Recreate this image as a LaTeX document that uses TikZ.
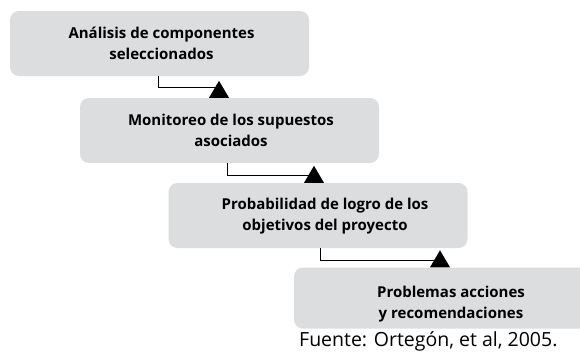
\documentclass[tikz,border=0pt]{standalone}
\usepackage{fontspec}
\setmainfont{Open Sans}
\definecolor{boxgray}{RGB}{220,221,222}
\tikzset{
  x=1pt, y=-1pt,
  stagebox/.style={draw=none, fill=boxgray, rounded corners=9pt,
    minimum width=299pt, minimum height=65pt, inner sep=0pt},
  stagetext/.style={align=center, font=\bfseries\fontsize{15}{20.5}\selectfont, inner sep=0pt},
  conn/.style={draw=black, line width=1pt},
  tip/.style={fill=black},
}
\begin{document}
\begin{tikzpicture}
\useasboundingbox (0,0) rectangle (580,351);
% boxes
\node[stagebox] (b1) at (159.5,43.5) {};
\node[stagebox] (b2) at (229.5,130.5) {};
\node[stagebox] (b3) at (318,215.5) {};
\node[stagebox, minimum height=61pt] (b4) at (443.5,298) {};
% texts
\node[stagetext] (t1) at (161.5,43.5) {Análisis de componentes\\seleccionados};
\node[stagetext] (t2) at (231,130.5) {Monitoreo de los supuestos\\asociados};
\node[stagetext] (t3) at (325,216) {Probabilidad de logro de los\\objetivos del proyecto};
\node[stagetext] (t4) at (451,304) {Problemas acciones\\y recomendaciones};
\node[anchor=base west, inner sep=0pt, font=\fontsize{19.5}{22}\selectfont] (src) at (299,346.5) {Fuente: Ortegón, et al, 2005.};
% connector anchor points
\coordinate (a1) at (b2.north -| 219,0);
\coordinate (a2) at (b3.north -| 314,0);
\coordinate (a3) at (b4.north -| 440,0);
% connectors
\draw[conn] (b1.south -| 158,0) |- (a1 |- 0,87);
\draw[conn] (b2.south -| 227,0) |- (a2 |- 0,175);
\draw[conn] (b3.south -| 320,0) |- (a3 |- 0,260);
% triangle tips
\foreach \a in {a1,a2,a3}{
  \fill[tip] (\a) ++(-10,0) -- ++(20,0) -- ++(-10,-17) -- cycle;
}
\end{tikzpicture}
\end{document}
